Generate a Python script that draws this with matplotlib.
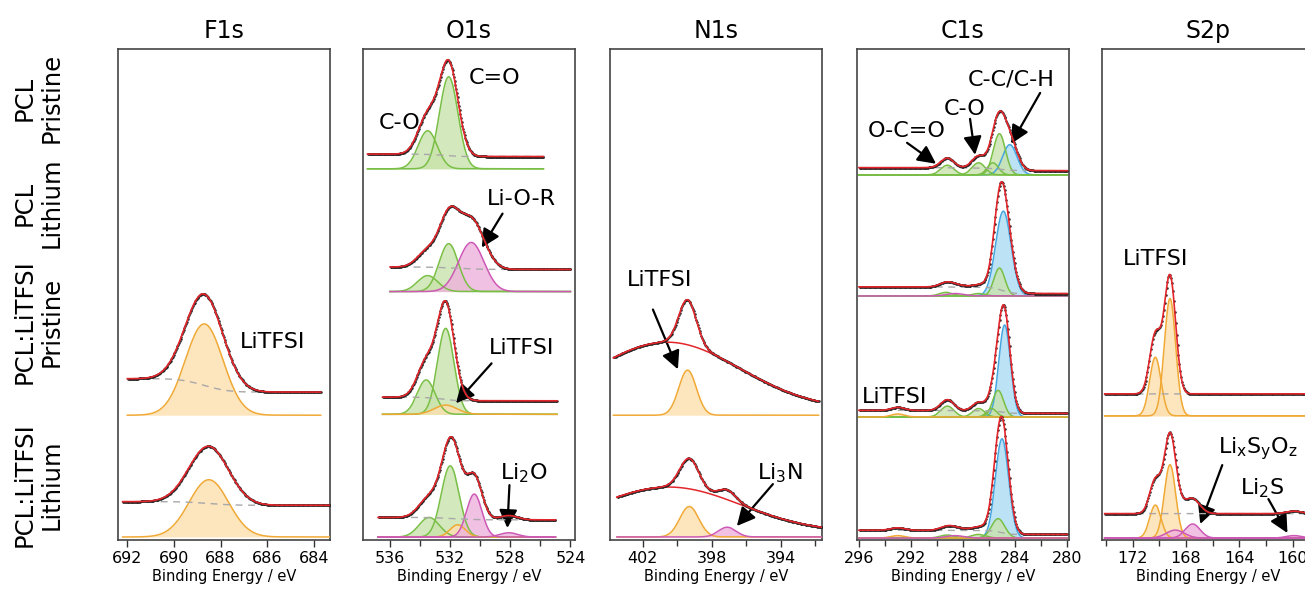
import numpy as np
import matplotlib
matplotlib.use("Agg")
import matplotlib.pyplot as plt
from matplotlib.ticker import MultipleLocator

# panel titles and sample rows (top to bottom)
titles = ["F1s", "O1s", "N1s", "C1s", "S2p"]
row_labels = ["PCL\nPristine", "PCL\nLithium", "PCL:LiTFSI\nPristine", "PCL:LiTFSI\nLithium"]

# fitted components per row: (binding energy, height, fwhm, colour key)
f1s_peaks = {
    2: [(688.7, 0.75, 1.9, "orange")],
    3: [(688.5, 0.47, 2.0, "orange")],
}
f1s_bg = {2: (0.30, 0.19), 3: (0.29, 0.26)}
f1s_span = {2: (692.0, 683.7), 3: (692.2, 683.3)}

o1s_peaks = {
    0: [(533.5, 0.31, 1.5, "green"), (532.1, 0.75, 1.45, "green")],
    1: [(533.5, 0.13, 1.6, "green"), (532.1, 0.39, 1.5, "green"), (530.6, 0.40, 2.0, "pink")],
    2: [(533.6, 0.28, 1.4, "green"), (532.3, 0.70, 1.3, "green"), (532.3, 0.075, 1.8, "orange")],
    3: [(533.4, 0.16, 1.6, "green"), (532.0, 0.58, 1.4, "green"), (531.5, 0.10, 1.2, "orange"),
        (530.4, 0.35, 1.2, "pink"), (528.1, 0.035, 1.4, "pink")],
}
o1s_bg = {0: (0.12, 0.10), 1: (0.20, 0.18), 2: (0.14, 0.11), 3: (0.16, 0.14)}
o1s_span = {0: (537.5, 525.8), 1: (536.0, 524.0), 2: (536.5, 524.9), 3: (536.8, 525.0)}

n1s_peaks = {
    2: [(399.4, 0.37, 1.2, "orange")],
    3: [(399.3, 0.25, 1.3, "orange"), (397.1, 0.08, 1.2, "pink")],
}
# broad background hump: (centre, height, fwhm, constant)
n1s_broad = {2: (400.6, 0.55, 10.0, 0.05), 3: (400.5, 0.37, 9.9, 0.04)}
n1s_span = {2: (403.7, 391.8), 3: (403.5, 391.6)}

c1s_peaks = {
    0: [(284.4, 0.25, 1.3, "blue"), (289.2, 0.08, 1.2, "green"), (286.8, 0.10, 1.2, "green"),
        (285.7, 0.10, 1.0, "green"), (285.2, 0.34, 1.1, "green")],
    1: [(284.9, 0.70, 1.4, "blue"), (285.2, 0.23, 1.0, "green"), (289.3, 0.03, 1.2, "green"),
        (286.8, 0.02, 1.2, "green"), (288.6, 0.02, 1.6, "pink")],
    2: [(284.8, 0.76, 1.05, "blue"), (285.3, 0.22, 1.0, "green"), (285.8, 0.07, 0.9, "green"),
        (286.8, 0.07, 1.1, "green"), (289.2, 0.09, 1.2, "green"), (293.0, 0.025, 1.2, "orange")],
    3: [(285.0, 0.82, 1.2, "blue"), (285.3, 0.16, 1.2, "green"), (286.8, 0.03, 1.3, "green"),
        (289.2, 0.025, 1.3, "green"), (293.0, 0.02, 1.3, "orange"), (288.6, 0.02, 1.6, "pink")],
}
c1s_bg = {0: (0.06, 0.035), 1: (0.075, 0.02), 2: (0.055, 0.03), 3: (0.065, 0.03)}
c1s_span = {0: (296.0, 280.0), 1: (296.0, 280.0), 2: (296.0, 280.0), 3: (296.0, 280.0)}

s2p_peaks = {
    2: [(170.3, 0.48, 1.0, "orange"), (169.2, 0.96, 1.0, "orange")],
    3: [(170.3, 0.27, 1.0, "orange"), (169.2, 0.60, 1.0, "orange"), (168.8, 0.065, 1.6, "pink"),
        (167.5, 0.115, 1.3, "pink"), (159.9, 0.02, 1.4, "pink")],
}
s2p_bg = {2: (0.18, 0.18), 3: (0.20, 0.20)}
s2p_span = {2: (174.1, 157.0), 3: (174.1, 157.0)}

peaks = [f1s_peaks, o1s_peaks, n1s_peaks, c1s_peaks, s2p_peaks]
bgs = [f1s_bg, o1s_bg, {}, c1s_bg, s2p_bg]
spans = [f1s_span, o1s_span, n1s_span, c1s_span, s2p_span]

# styling
edge = {"orange": "#f0a935", "green": "#79bf45", "pink": "#cd58b6", "blue": "#45a6e0"}
fill = {"orange": "#fddfae", "green": "#c9e3ab", "pink": "#eeb2dc", "blue": "#acdbf4"}
xlims = [(692.4, 683.3), (537.8, 523.7), (403.9, 391.6), (296.15, 279.85), (174.3, 158.4)]
ylims = [(-0.025, 4.008), (-0.024, 3.976), (-0.025, 4.008), (-0.016, 4.04), (-0.016, 4.003)]
major = [(2, 0), (4, 0), (4, 2), (4, 0), (4, 0)]
lefts = [118, 363, 610, 857, 1102]


def gauss(x, c, h, w):
    return h * np.exp(-4 * np.log(2) * (x - c) ** 2 / w ** 2)


def shirley(x, comp, high, low):
    # step background, x ascending
    cum = np.cumsum(comp)
    if cum[-1] <= 0:
        return np.full_like(x, low)
    return low + (high - low) * cum / cum[-1]


fig = plt.figure(figsize=(13.05, 5.89), dpi=100)
W, H = 1305, 589

axes = []
for i, name in enumerate(titles):
    ax = fig.add_axes([lefts[i] / W, (H - 540) / H, 212 / W, 491 / H])
    axes.append(ax)
    for row, comps in peaks[i].items():
        off = 3 - row
        hi, lo = spans[i][row]
        x = np.linspace(lo, hi, 1500)
        total = np.zeros_like(x)
        for c, h, w, col in comps:
            g = gauss(x, c, h, w)
            total += g
            ax.fill_between(x, off, off + g, color=fill[col], alpha=0.8, lw=0, zorder=2)
            ax.plot(x, off + g, color=edge[col], lw=1.1, zorder=3)
        if i == 2:
            bc, bh, bw, const = n1s_broad[row]
            back = gauss(x, bc, bh, bw) + const
            ax.plot(x, off + back, color="#e3262c", lw=1.1, zorder=5)
        else:
            bhigh, blow = bgs[i][row]
            back = shirley(x, total, bhigh, blow)
            ax.plot(x, off + back, color="#a8a8a8", lw=1.0, ls=(0, (5, 4)), zorder=4)
        env = back + total
        xd = x[::6]
        ax.plot(xd, off + env[::6], ls="none", marker=".", ms=1.6, color="#222222", zorder=5)
        ax.plot(x, off + env, color="#e3262c", lw=1.2, zorder=6)

    ax.set_xlim(*xlims[i])
    ax.set_ylim(*ylims[i])
    ax.set_yticks([])
    base, shift = major[i]
    ax.xaxis.set_major_locator(MultipleLocator(base, offset=shift))
    ax.xaxis.set_minor_locator(MultipleLocator(2))
    ax.tick_params(axis="x", which="major", direction="out", length=5, width=1, pad=3,
                   labelsize=11.5, colors="#333333", labelcolor="black")
    ax.tick_params(axis="x", which="minor", direction="out", length=4, width=1, colors="#333333")
    for s in ax.spines.values():
        s.set_color("#444444")
        s.set_linewidth(1.2)
    ax.set_xlabel("Binding Energy / eV", fontsize=10.5, labelpad=2)
    fig.text((lefts[i] + 106) / W, (H - 31) / H, name, ha="center", va="center", fontsize=17)

# row labels on the left
for y, lab in zip([98, 203, 322, 485], row_labels):
    fig.text(38 / W, (H - y) / H, lab, rotation=90, ha="center", va="center",
             multialignment="center", fontsize=17.5, linespacing=1.15)

arrow = dict(arrowstyle="-|>,head_length=1.1,head_width=0.55", color="black", lw=1.6,
             shrinkA=0, shrinkB=0)
fs = 16

ax = axes[0]
ax.text(687.16, 1.60, "LiTFSI", fontsize=fs, va="center")

ax = axes[1]
ax.text(530.76, 3.74, "C=O", fontsize=fs, va="center")
ax.text(536.75, 3.37, "C-O", fontsize=fs, va="center")
ax.text(529.58, 2.756, "Li-O-R", fontsize=fs, va="center")
ax.annotate("", xy=(529.9, 2.358), xytext=(528.52, 2.635), arrowprops=arrow)
ax.text(529.45, 1.537, "LiTFSI", fontsize=fs, va="center")
ax.annotate("", xy=(531.62, 1.09), xytext=(529.25, 1.415), arrowprops=arrow)
ax.text(528.72, 0.521, r"Li$_\mathregular{2}$O", fontsize=fs, va="center")
ax.annotate("", xy=(528.2, 0.074), xytext=(528.06, 0.423), arrowprops=arrow)

ax = axes[2]
ax.text(402.91, 2.114, "LiTFSI", fontsize=fs, va="center")
ax.annotate("", xy=(399.96, 1.377), xytext=(401.41, 1.868), arrowprops=arrow)
ax.text(395.38, 0.524, r"Li$_\mathregular{3}$N", fontsize=fs, va="center")
ax.annotate("", xy=(396.54, 0.09), xytext=(394.45, 0.434), arrowprops=arrow)

ax = axes[3]
ax.text(295.3, 3.364, "O-C=O", fontsize=fs, va="center")
ax.annotate("", xy=(290.07, 3.092), xytext=(292.3, 3.265), arrowprops=arrow)
ax.text(289.46, 3.545, "C-O", fontsize=fs, va="center")
ax.annotate("", xy=(287.07, 3.166), xytext=(287.46, 3.463), arrowprops=arrow)
ax.text(287.6, 3.784, "C-C/C-H", fontsize=fs, va="center")
ax.annotate("", xy=(284.3, 3.257), xytext=(282.07, 3.677), arrowprops=arrow)
ax.text(295.77, 1.163, "LiTFSI", fontsize=fs, va="center")

ax = axes[4]
ax.text(172.72, 2.288, "LiTFSI", fontsize=fs, va="center")
ax.text(165.58, 0.736, r"Li$_\mathregular{x}$S$_\mathregular{y}$O$_\mathregular{z}$", fontsize=fs,
        va="center")
ax.annotate("", xy=(166.93, 0.115), xytext=(165.28, 0.597), arrowprops=arrow)
ax.text(163.92, 0.409, r"Li$_\mathregular{2}$S", fontsize=fs, va="center")
ax.annotate("", xy=(160.39, 0.041), xytext=(161.82, 0.319), arrowprops=arrow)

fig.savefig("out.png", dpi=100)
